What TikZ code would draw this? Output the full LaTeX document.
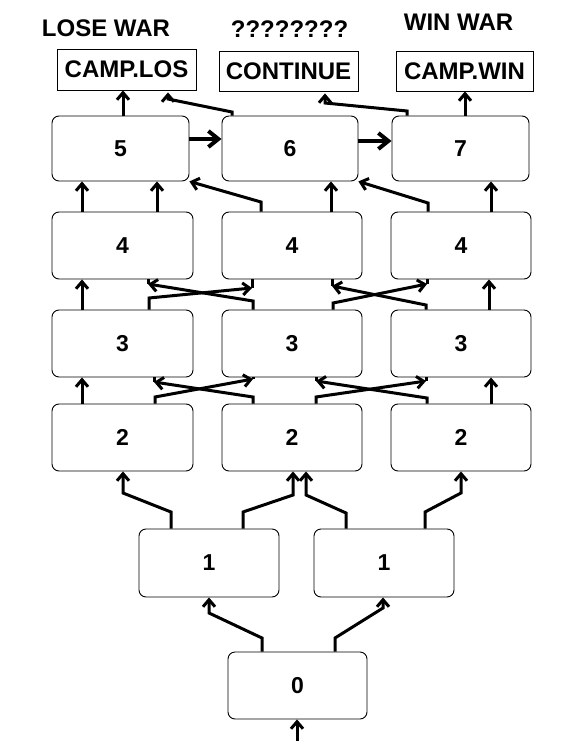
\documentclass[tikz,border=0pt]{standalone}
\usepackage{fontspec}
\setmainfont{Liberation Sans}
\usetikzlibrary{arrows.meta}
\begin{document}
\begin{tikzpicture}[x=1pt,y=-1pt,
  box/.style={draw, line width=0.9pt, rounded corners=7pt, inner sep=0pt, font=\fontsize{23}{23}\selectfont\bfseries},
  endbox/.style={draw, line width=0.9pt, inner sep=0pt, font=\fontsize{24}{24}\selectfont\bfseries},
  head/.style={inner sep=0pt, font=\fontsize{24}{24}\selectfont\bfseries},
  conn/.style={line width=3pt},
  arr/.style={conn, -{Straight Barb[length=7pt,width=12pt]}},
  bigarr/.style={line width=4pt, -{Straight Barb[length=10pt,width=16pt]}}
]
\useasboundingbox (0,0) rectangle (575,741);
\fill[white] (0,0) rectangle (575,741);
% headings
\node[head] (hl) at (106,28) {LOSE WAR};
\node[head] (hc) at (289.5,29) {????????};
\node[head] (hw) at (458.5,22) {WIN WAR};
% end boxes
\node[endbox, minimum width=139pt, minimum height=41pt] (los) at (126.5,69.5) {CAMP.LOS};
\node[endbox, minimum width=139pt, minimum height=40pt] (cont) at (288.5,71) {CONTINUE};
\node[endbox, minimum width=137pt, minimum height=40pt] (win) at (464.5,71) {CAMP.WIN};
% row 5
\node[box, minimum width=137pt, minimum height=65pt] (b5) at (120.5,148.5) {5};
\node[box, minimum width=136pt, minimum height=65pt] (b6) at (290,148.5) {6};
\node[box, minimum width=137pt, minimum height=65pt] (b7) at (460.5,148.5) {7};
% row 4
\node[box, minimum width=141pt, minimum height=67pt] (b4a) at (122.5,245.5) {4};
\node[box, minimum width=140pt, minimum height=67pt] (b4b) at (292,245.5) {4};
\node[box, minimum width=140pt, minimum height=67pt] (b4c) at (461,245.5) {4};
% row 3
\node[box, minimum width=141pt, minimum height=67pt] (b3a) at (122.5,343.5) {3};
\node[box, minimum width=140pt, minimum height=67pt] (b3b) at (292,343.5) {3};
\node[box, minimum width=140pt, minimum height=67pt] (b3c) at (461,343.5) {3};
% row 2
\node[box, minimum width=141pt, minimum height=67pt] (b2a) at (122.5,437.5) {2};
\node[box, minimum width=140pt, minimum height=67pt] (b2b) at (292,437.5) {2};
\node[box, minimum width=140pt, minimum height=67pt] (b2c) at (461,437.5) {2};
% row 1
\node[box, minimum width=140pt, minimum height=68pt] (b1a) at (209,563) {1};
\node[box, minimum width=140pt, minimum height=68pt] (b1b) at (384,563) {1};
% row 0
\node[box, minimum width=139pt, minimum height=67pt] (b0) at (297.5,685.5) {0};

% to end boxes
\draw[arr] (b5.north -| 123,0) -- (los.south -| 123,0);
\draw[arr, shorten >=2pt] (b6.north -| 232,0) -- (232,112) -- (168,99) -- (los.south -| 168,0);
\draw[arr, shorten >=2pt] (b7.north -| 407,0) -- (407,111) -- (325,103) -- (cont.south -| 325,0);
\draw[arr] (b7.north -| 465,0) -- (win.south -| 465,0);
% horizontal
\draw[bigarr] (b5.east |- 0,139) -- (b6.west |- 0,139);
\draw[bigarr] (b6.east |- 0,141) -- (b7.west |- 0,141);
% row 4 -> 5
\draw[arr] (b4a.north -| 82,0) -- (b5.south -| 82,0);
\draw[arr] (b4a.north -| 157,0) -- (b5.south -| 157,0);
\draw[arr] (b4b.north -| 261,0) -- (261,202) -- (b5.south east);
\draw[arr] (b4b.north -| 331,0) -- (b6.south -| 331,0);
\draw[arr] (b4c.north -| 428,0) -- (428,203) -- (b6.south east);
\draw[arr] (b4c.north -| 491,0) -- (b7.south -| 491,0);
% row 3 -> 4
\draw[arr] (b3a.north -| 82,0) -- (b4a.south -| 82,0);
\coordinate (c1) at (252,288);
\draw[conn] (c1) -- (b4b.south -| c1);
\draw[arr] (b3a.north -| 149,0) -- (149,298) -- (c1);
\coordinate (c2) at (148,284);
\draw[conn] (c2) -- (b4a.south -| c2);
\draw[arr] (b3b.north -| 253,0) -- (253,301) -- (c2);
\coordinate (c3) at (427,284);
\draw[conn] (c3) -- (b4c.south -| c3);
\draw[arr] (b3b.north -| 333,0) -- (333,303) -- (c3);
\coordinate (c4) at (332,286);
\draw[conn] (c4) -- (b4b.south -| c4);
\draw[arr] (b3c.north -| 426,0) -- (426,305) -- (c4);
\draw[arr] (b3c.north -| 489,0) -- (b4c.south -| 489,0);
% row 2 -> 3
\draw[arr] (b2a.north -| 82,0) -- (b3a.south -| 82,0);
\coordinate (d1) at (253,379);
\draw[conn] (d1) -- (b3b.south -| d1);
\draw[arr] (b2a.north -| 155,0) -- (155,397) -- (d1);
\coordinate (d2) at (154,382);
\draw[conn] (d2) -- (b3a.south -| d2);
\draw[arr] (b2b.north -| 253,0) -- (253,397) -- (d2);
\coordinate (d3) at (426,381);
\draw[conn] (d3) -- (b3c.south -| d3);
\draw[arr] (b2b.north -| 316,0) -- (316,397) -- (d3);
\coordinate (d4) at (316,381);
\draw[conn] (d4) -- (b3b.south -| d4);
\draw[arr] (b2c.north -| 427,0) -- (427,398) -- (d4);
\draw[arr] (b2c.north -| 491,0) -- (b3c.south -| 491,0);
% row 1 -> 2
\draw[arr] (b1a.north -| 171,0) -- (171,512) -- (123,493) -- (b2a.south -| 123,0);
\draw[arr] (b1a.north -| 243,0) -- (243,512) -- (293,495) -- (b2b.south -| 293,0);
\draw[arr] (b1b.north -| 346,0) -- (346,513) -- (306,495) -- (b2b.south -| 306,0);
\draw[arr] (b1b.north -| 425,0) -- (425,512) -- (461,493) -- (b2c.south -| 461,0);
% row 0 -> 1
\draw[arr] (b0.north -| 262,0) -- (262,638) -- (209,613) -- (b1a.south -| 209,0);
\draw[arr] (b0.north -| 335,0) -- (335,638) -- (383,608) -- (b1b.south -| 383,0);
% entry
\coordinate (in) at (297,741);
\draw[arr] (in) -- (b0.south -| in);
\end{tikzpicture}
\end{document}
